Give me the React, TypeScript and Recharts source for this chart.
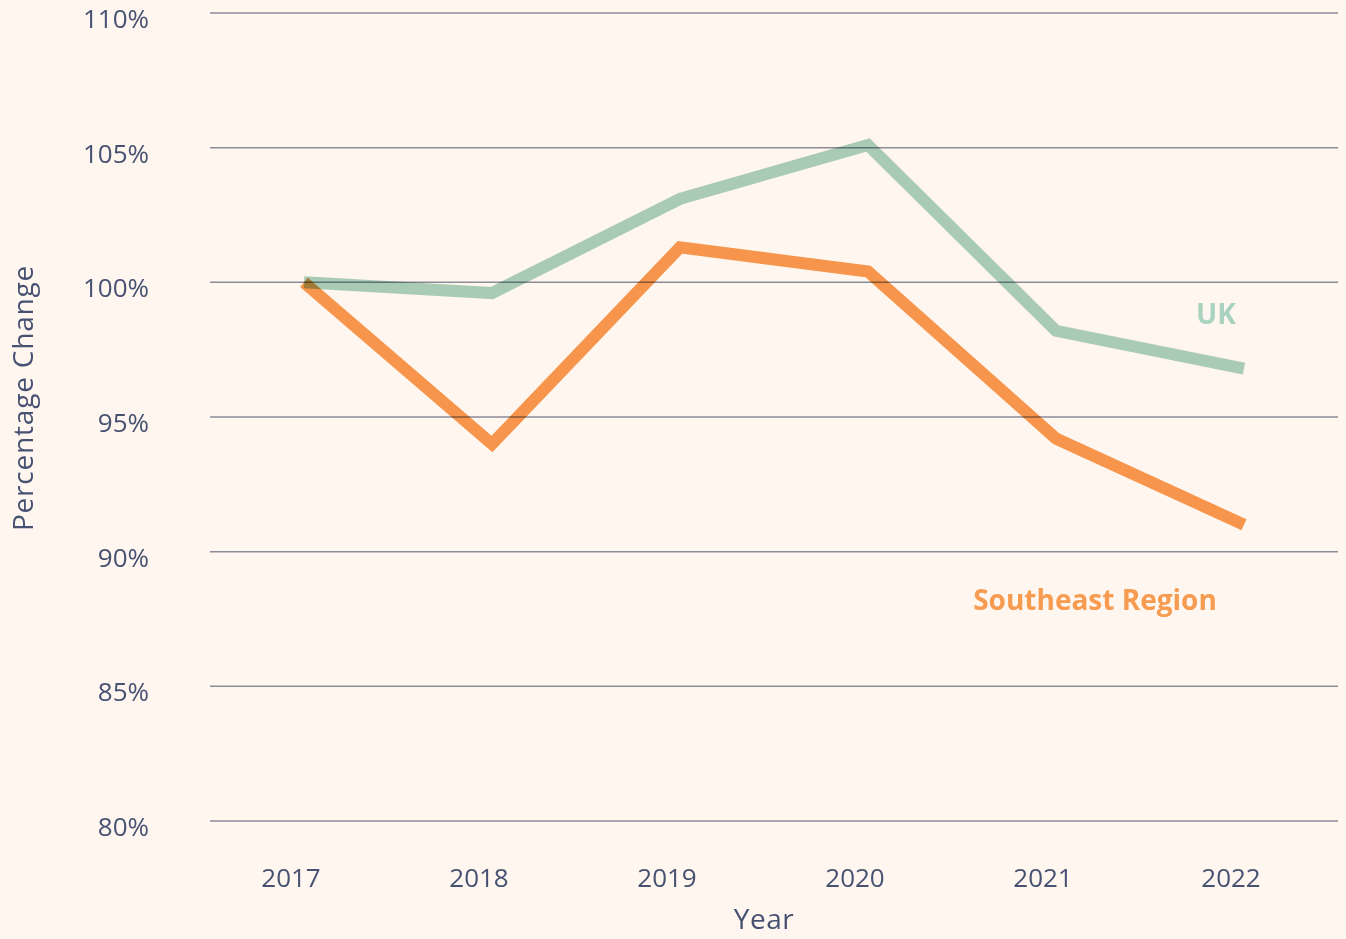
import React from "react";
import { LineChart, Line, XAxis, YAxis, CartesianGrid, Label, LabelList } from "recharts";

const years = ["2017", "2018", "2019", "2020", "2021", "2022"];
const ukValues = [100, 99.6, 103.1, 105.1, 98.2, 96.8];
const southeastValues = [100, 94.0, 101.3, 100.4, 94.2, 91.0];
const yTicks = [80, 85, 90, 95, 100, 105, 110];

const data = years.map((year, i) => ({ year, uk: ukValues[i], southeast: southeastValues[i] }));

const FONT = "'Open Sans', sans-serif";
const TEXT = "#475273";
const GREEN = "#a9d2bf";
const ORANGE = "#f69b50";

const XTick = (props: any) => {
  const { x, y, payload } = props;
  return (
    <text x={x - 13} y={y + 58} textAnchor="middle" fontFamily={FONT} fontSize={26} fill={TEXT}>
      {payload.value}
    </text>
  );
};

const YTick = (props: any) => {
  const { y, payload } = props;
  return (
    <text x={149} y={y + 15} textAnchor="end" fontFamily={FONT} fontSize={26} fill={TEXT}>
      {`${payload.value}%`}
    </text>
  );
};

const makeEndLabel = (text: string, color: string, dx: number, dy: number) => (props: any) => {
  const { x, y, index } = props;
  if (index !== years.length - 1) return null;
  return (
    <text x={x + dx} y={y + dy} textAnchor="middle" dominantBaseline="central" fontFamily={FONT} fontSize={28} fontWeight={700} fill={color}>
      {text}
    </text>
  );
};

export default function App() {
  return (
    <div style={{ position: "fixed", left: 0, top: 0, width: 1346, height: 939, background: "#fff6ef" }}>
      <LineChart width={1346} height={939} data={data} margin={{ top: 13, right: 8, bottom: 0, left: 0 }}>
        <CartesianGrid vertical={false} stroke="#8c8b9a" strokeWidth={1.5} />
        <XAxis
          dataKey="year"
          padding={{ left: 94, right: 94 }}
          axisLine={false}
          tickLine={false}
          tick={<XTick />}
          interval={0}
          height={118}
        >
          <Label
            content={() => (
              <text x={764} y={929} textAnchor="middle" fontFamily={FONT} fontSize={28} letterSpacing={0.5} fill={TEXT}>
                Year
              </text>
            )}
          />
        </XAxis>
        <YAxis
          width={210}
          domain={[80, 110]}
          ticks={yTicks}
          axisLine={false}
          tickLine={false}
          tick={<YTick />}
          interval={0}
        >
          <Label
            content={() => (
              <text x={22} y={398} transform="rotate(-90 22 398)" textAnchor="middle" dominantBaseline="central" fontFamily={FONT} fontSize={28} letterSpacing={0.8} fill={TEXT}>
                Percentage Change
              </text>
            )}
          />
        </YAxis>
        <Line
          type="linear"
          dataKey="uk"
          stroke={GREEN}
          strokeWidth={12}
          strokeLinecap="butt"
          strokeLinejoin="miter"
          dot={false}
          activeDot={false}
          isAnimationActive={false}
          style={{ mixBlendMode: "multiply" }}
        >
          <LabelList dataKey="uk" content={makeEndLabel("UK", GREEN, -28, -56)} />
        </Line>
        <Line
          type="linear"
          dataKey="southeast"
          stroke={ORANGE}
          strokeWidth={12}
          strokeLinecap="butt"
          strokeLinejoin="miter"
          dot={false}
          activeDot={false}
          isAnimationActive={false}
          style={{ mixBlendMode: "multiply" }}
        >
          <LabelList dataKey="southeast" content={makeEndLabel("Southeast Region", ORANGE, -149, 74)} />
        </Line>
      </LineChart>
    </div>
  );
}
